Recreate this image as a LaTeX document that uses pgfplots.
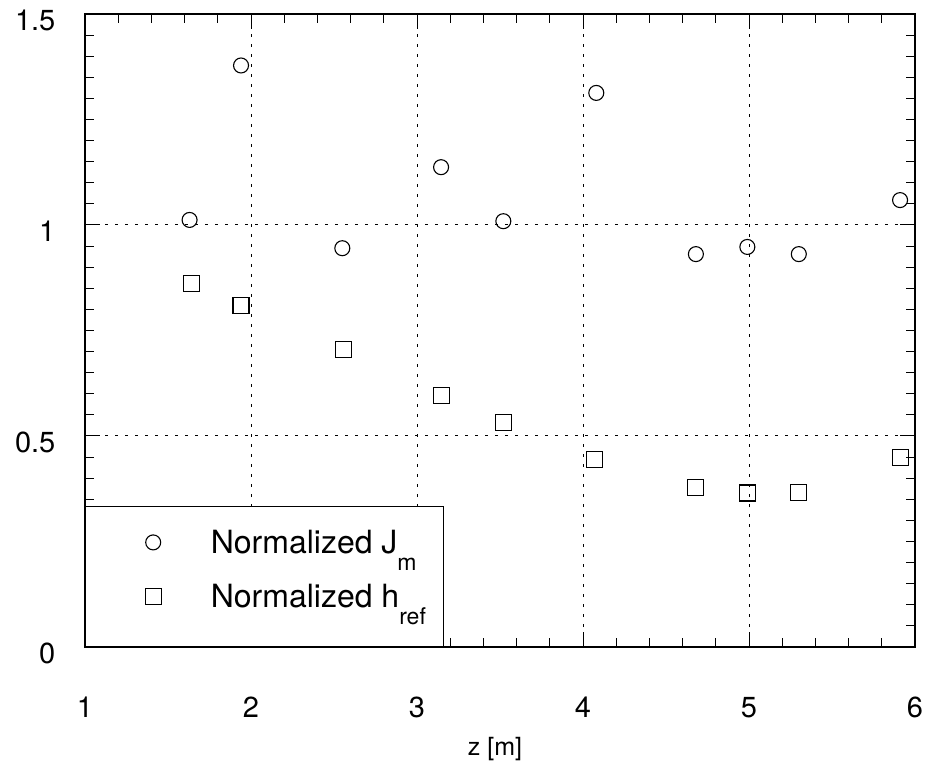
\documentclass[border=0pt]{standalone}
\usepackage{fontspec}
\setmainfont{TeX Gyre Heros}
\usepackage{pgfplots}
\pgfplotsset{compat=1.18}
\pgfplotsset{myleg/.style={legend image code/.code={\path (-33.5pt,-12pt) (28.5pt,12pt); \draw[##1] plot coordinates {(0pt,#1)};}}}
\newcommand\lsub[1]{\raisebox{-8.5pt}{\fontsize{11.5}{13}\selectfont #1}}
\begin{document}
\begin{tikzpicture}
\begin{axis}[
  scale only axis, width=415pt, height=316.5pt,
  xmin=1, xmax=6, ymin=0, ymax=1.5,
  xtick={1,2,3,4,5,6}, ytick={0,0.5,1,1.5},
  minor x tick num=4, minor y tick num=9,
  tick align=inside,
  major tick length=7.5pt, minor tick length=4.5pt,
  every tick/.style={black, line width=0.5pt},
  axis line style={line width=0.8pt},
  grid=major,
  major grid style={black, line width=0.5pt, dash pattern=on 1.5pt off 3.5pt},
  /pgf/number format/assume math mode=true,
  ticklabel style={font=\fontsize{14.5}{16}\selectfont},
  xticklabel style={yshift=-21.5pt},
  yticklabel style={xshift=-11.3pt, yshift=-3pt},
  xlabel={z [m]},
  xlabel style={font=\fontsize{12.5}{14}\selectfont, at={(axis description cs:0.494,0)}, anchor=north, yshift=-45pt, inner sep=0pt},
  legend style={at={(0,0)}, anchor=south west, draw=black, line width=0.6pt, fill=white,
    inner xsep=0pt, inner ysep=0pt, row sep=6pt, column sep=0pt,
    font=\fontsize{16}{19}\selectfont, nodes={inner sep=0pt, text depth=, text height=}},
  legend cell align=left,
]
\addplot[only marks, mark=o, mark size=3.75pt, mark options={black, line width=0.55pt, solid}, myleg=-1.75pt]
  coordinates {(1.63,1.012) (1.94,1.378) (2.55,0.945) (3.145,1.137) (3.52,1.009)
               (4.08,1.313) (4.68,0.931) (4.99,0.948) (5.30,0.931) (5.91,1.059)};
\addlegendentry{\makebox[116.5pt][l]{\rule[-9pt]{0pt}{32.5pt}Normalized J\lsub{m}}}
\addplot[only marks, mark=square, mark size=4pt, mark options={black, line width=0.55pt, solid}, myleg=9.25pt]
  coordinates {(1.64,0.862) (1.94,0.810) (2.555,0.704) (3.145,0.595) (3.52,0.533)
               (4.07,0.445) (4.68,0.379) (4.99,0.365) (5.30,0.367) (5.91,0.450)};
\addlegendentry{\makebox[116.5pt][l]{\rule[-19.5pt]{0pt}{31.5pt}Normalized h\lsub{ref}}}
\end{axis}
\pgfresetboundingbox
\path[use as bounding box] ([xshift=-42.5pt,yshift=-58pt]current axis.south west) rectangle ([xshift=5.5pt,yshift=7pt]current axis.north east);
\end{tikzpicture}
\end{document}
